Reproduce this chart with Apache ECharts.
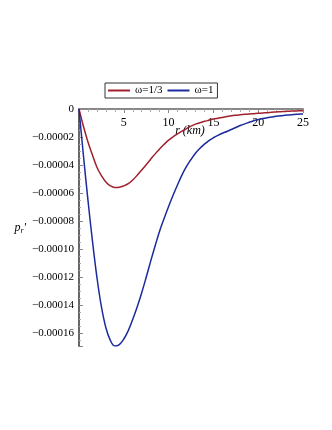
<!DOCTYPE html>
<html>
<head>
<meta charset="utf-8">
<script src="https://cdn.jsdelivr.net/npm/echarts@6/dist/echarts.min.js"></script>
<style>
  html, body { margin: 0; padding: 0; background: #fff; }
  #chart { width: 332px; height: 430px; }
</style>
</head>
<body>
<div id="chart"></div>
<script>
// r (km), every 0.5
const radius = []
for (let r = 0; r <= 25; r += 0.5) radius.push(r)

// p_r' in units of 1e-5
const omegaThird = [0, -1.25, -2.35, -3.28, -4.15, -4.75, -5.2, -5.48, -5.6, -5.58,
  -5.48, -5.32, -5.06, -4.72, -4.35, -3.97, -3.58, -3.2, -2.85, -2.52,
  -2.22, -1.98, -1.78, -1.58, -1.4, -1.22, -1.08, -0.98, -0.88, -0.8,
  -0.72, -0.66, -0.6, -0.54, -0.48, -0.44, -0.41, -0.38, -0.35, -0.33,
  -0.31, -0.28, -0.26, -0.23, -0.21, -0.19, -0.17, -0.155, -0.14, -0.13, -0.12]
const omegaOne = [0, -3.35, -6.5, -9.4, -12.0, -14.1, -15.6, -16.5, -16.9, -16.8,
  -16.4, -15.8, -15.0, -14.1, -13.1, -12.0, -10.85, -9.75, -8.7, -7.8,
  -6.95, -6.15, -5.4, -4.7, -4.1, -3.6, -3.15, -2.8, -2.5, -2.25,
  -2.05, -1.88, -1.73, -1.6, -1.46, -1.32, -1.18, -1.06, -0.95, -0.84,
  -0.75, -0.68, -0.62, -0.57, -0.52, -0.48, -0.45, -0.42, -0.39, -0.37, -0.35]

const seriesNames = ['ω=1/3', 'ω=1']
const seriesColors = ['#a0202d', '#1c2b9c']

const toPairs = vals => radius.map((r, i) => [r, vals[i] * 1e-5])

const serif = 'Liberation Serif'
const chart = echarts.init(document.getElementById('chart'), null, { renderer: 'canvas' })

chart.setOption({
  backgroundColor: '#fff',
  animation: false,
  legend: {
    left: 105,
    top: 83,
    padding: [2, 4, 2, 3],
    itemGap: 5,
    itemWidth: 22,
    itemHeight: 2,
    borderColor: '#333',
    borderWidth: 1,
    borderRadius: 0,
    icon: 'rect',
    textStyle: { fontFamily: serif, fontSize: 11, color: '#000' },
    data: seriesNames
  },
  graphic: [{
    type: 'text',
    x: 190,
    y: 131,
    style: {
      text: 'r (km)',
      fontFamily: serif,
      fontStyle: 'italic',
      fontSize: 12,
      fill: '#000',
      align: 'center',
      verticalAlign: 'middle'
    }
  }],
  grid: { left: 79, right: 29, top: 109, bottom: 84, containLabel: false },
  xAxis: {
    type: 'value',
    position: 'top',
    min: 0,
    max: 25,
    interval: 5,
    axisLine: { onZero: false, lineStyle: { color: '#888', width: 2 } },
    axisTick: { show: true, inside: true, length: 4, lineStyle: { color: '#888' } },
    minorTick: { show: true, splitNumber: 5, length: 3, lineStyle: { color: '#aaa' } },
    splitLine: { show: false },
    axisLabel: {
      inside: true,
      showMinLabel: false,
      margin: 8,
      fontFamily: serif,
      fontSize: 12,
      color: '#000'
    }
  },
  yAxis: {
    type: 'value',
    min: -0.000169,
    max: 0,
    splitNumber: 8,
    name: '{p|p}{r|r}{p|′}',
    nameLocation: 'middle',
    nameRotate: 0,
    nameGap: 50,
    nameTextStyle: {
      rich: {
        p: { fontFamily: serif, fontStyle: 'italic', fontSize: 12, color: '#000' },
        r: { fontFamily: serif, fontStyle: 'italic', fontSize: 8, color: '#000', verticalAlign: 'bottom', padding: [6, 0, 0, 0] }
      }
    },
    axisLine: { show: true, lineStyle: { color: '#666', width: 2 } },
    axisTick: { show: true, inside: true, length: 4, lineStyle: { color: '#888' } },
    minorTick: { show: true, splitNumber: 4, length: 2, lineStyle: { color: '#aaa' } },
    splitLine: { show: false },
    axisLabel: {
      showMinLabel: false,
      margin: 5,
      fontFamily: serif,
      fontSize: 11,
      color: '#000',
      formatter: v => (Math.abs(v) < 1e-12 ? '0' : '\u2212' + Math.abs(v).toFixed(5))
    }
  },
  series: [omegaThird, omegaOne].map((vals, i) => ({
    name: seriesNames[i],
    type: 'line',
    data: toPairs(vals),
    smooth: 0.4,
    showSymbol: false,
    symbol: 'none',
    color: seriesColors[i],
    lineStyle: { width: 1.5, color: seriesColors[i] }
  }))
})
</script>
</body>
</html>
